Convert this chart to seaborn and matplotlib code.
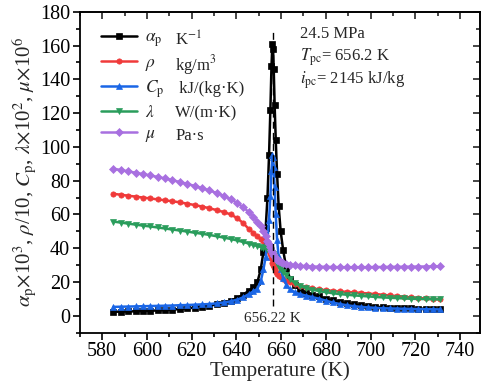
import numpy as np
import pandas as pd
import seaborn as sns
import matplotlib.pyplot as plt
from matplotlib.ticker import MultipleLocator

# temperature grid (K), denser near the pseudo-critical point
temperature = [
    585.0, 588.3, 591.6, 594.9, 598.2, 601.5, 604.8, 608.1, 611.4, 614.7,
    618.0, 621.3, 624.6, 627.9, 631.2, 634.4, 637.5, 640.4, 643.1, 645.5,
    647.6, 649.4, 650.9, 652.1, 653.1, 653.9, 654.6, 655.2, 655.7, 656.1,
    656.4, 656.7, 657.1, 657.6, 658.2, 658.9, 659.8, 660.9, 662.3, 664.0,
    666.0, 668.4, 671.0, 673.8, 676.8, 679.9, 683.0, 686.2, 689.4, 692.6,
    695.8, 699.0, 702.2, 705.4, 708.6, 711.8, 715.0, 718.2, 721.4, 724.6,
    727.8, 731.0,
]
alpha_p = [
    2.4, 2.5, 2.6, 2.7, 2.9, 3.0, 3.2, 3.4, 3.7, 4.0,
    4.4, 4.9, 5.4, 6.0, 6.8, 7.8, 9.0, 10.6, 12.6, 14.8,
    17.0, 20.0, 27.5, 38.0, 52.0, 70.0, 95.0, 122.0, 148.0, 161.0,
    158.0, 146.0, 125.0, 104.0, 84.0, 65.0, 50.0, 39.0, 28.5, 22.0,
    18.0, 15.5, 13.8, 12.6, 11.5, 10.2, 9.1, 8.2, 7.4, 6.8,
    6.2, 5.8, 5.4, 5.1, 4.9, 4.7, 4.5, 4.4, 4.3, 4.2,
    4.1, 4.0,
]
rho = [
    72.2, 71.7, 71.1, 70.6, 70.0, 69.5, 68.9, 68.4, 67.8, 67.2,
    66.4, 65.6, 64.7, 63.7, 62.6, 61.4, 60.0, 57.8, 54.8, 51.5,
    49.0, 47.0, 45.5, 44.3, 42.5, 40.5, 38.5, 36.5, 34.0, 31.5,
    30.0, 28.8, 27.5, 26.2, 25.0, 23.8, 22.8, 21.9, 20.9, 19.8,
    18.8, 17.9, 17.0, 16.3, 15.7, 15.2, 14.8, 14.5, 14.2, 13.9,
    13.6, 13.2, 12.9, 12.5, 12.1, 11.7, 11.3, 10.9, 10.6, 10.3,
    10.0, 9.8,
]
cp = [
    5.3, 5.4, 5.5, 5.6, 5.7, 5.8, 5.9, 6.0, 6.1, 6.3,
    6.4, 6.6, 6.8, 7.0, 7.4, 7.9, 8.6, 9.6, 11.0, 12.8,
    14.5, 16.0, 20.5, 27.5, 35.0, 45.0, 57.0, 71.0, 86.0, 95.0,
    94.0, 88.0, 76.0, 60.0, 45.0, 35.0, 28.0, 22.5, 18.5, 15.8,
    14.0, 12.8, 12.0, 11.1, 10.2, 9.0, 7.9, 7.0, 6.3, 5.7,
    5.3, 5.0, 4.7, 4.5, 4.4, 4.3, 4.2, 4.1, 4.0, 3.9,
    3.9, 3.8,
]
lam = [
    55.8, 55.2, 54.6, 54.0, 53.4, 52.9, 52.3, 51.7, 51.1, 50.5,
    49.9, 49.2, 48.6, 47.9, 47.1, 46.3, 45.5, 44.6, 43.7, 42.8,
    42.0, 41.3, 40.8, 40.4, 40.1, 39.8, 39.5, 39.0, 38.3, 37.4,
    36.6, 35.6, 34.3, 32.7, 31.0, 29.2, 27.5, 25.9, 24.0, 21.8,
    19.6, 17.8, 16.5, 15.5, 14.7, 14.0, 13.4, 12.9, 12.5, 12.1,
    11.8, 11.5, 11.2, 10.9, 10.7, 10.5, 10.3, 10.1, 10.0, 9.9,
    9.8, 9.7,
]
mu = [
    87.1, 86.3, 85.5, 84.7, 83.9, 83.1, 82.2, 81.3, 80.3, 79.2,
    78.1, 76.9, 75.6, 74.2, 72.7, 71.0, 69.0, 66.8, 64.2, 61.5,
    58.6, 55.8, 53.0, 50.0, 47.0, 44.5, 42.4, 40.5, 38.9, 37.5,
    36.6, 35.7, 34.8, 33.9, 33.2, 32.6, 32.0, 31.4, 30.8, 30.3,
    29.9, 29.6, 29.4, 29.2, 29.1, 29.0, 28.9, 28.8, 28.8, 28.8,
    28.8, 28.8, 28.9, 28.9, 29.0, 29.0, 29.1, 29.1, 29.2, 29.2,
    29.3, 29.3,
]

series = ['alpha', 'rho', 'cp', 'lam', 'mu']
symbols = [r'$\alpha_\mathrm{p}$', r'$\rho$', r'$C_\mathrm{p}$', r'$\lambda$', r'$\mu$']
units = ['K$^{-1}$', 'kg/m$^3$', ' kJ/(kg·K)', 'W/(m·K)', 'Pa·s']
colors = {'alpha': '#000000', 'rho': '#f03a3a', 'cp': '#1a66e6',
          'lam': '#2a9d5c', 'mu': '#a870e0'}
markers = {'alpha': 's', 'rho': 'o', 'cp': '^', 'lam': 'v', 'mu': 'D'}

T_PC = 656.22
info_lines = ['24.5 MPa', r'$T_\mathrm{pc}$= 656.2 K', r'$i_\mathrm{pc}$= 2145 kJ/kg']

df = pd.DataFrame({'T': temperature, 'alpha': alpha_p, 'rho': rho,
                   'cp': cp, 'lam': lam, 'mu': mu})
long = df.melt(id_vars='T', var_name='prop', value_name='val')

sns.set_theme(style='white')
plt.rcParams['font.family'] = ['Liberation Serif', 'DejaVu Serif']
plt.rcParams['mathtext.fontset'] = 'stix'

fig = plt.figure(figsize=(4.84, 3.91), dpi=100)
ax = fig.add_axes([0.165, 0.149, 0.827, 0.821])

sns.lineplot(data=long, x='T', y='val', hue='prop', style='prop',
             hue_order=series, style_order=series, palette=colors,
             markers=markers, dashes=False, estimator=None, sort=False,
             linewidth=1.8, markersize=3.8, ax=ax)
for line in ax.lines:
    line.set_markeredgecolor(line.get_color())
    line.set_markeredgewidth(0.5)

ax.vlines(T_PC, 6, 170, colors='black', linestyles=(0, (5, 3)), linewidth=1.0)
ax.text(T_PC, 2.5, '656.22 K', ha='center', va='top', fontsize=11)

ax.set_xlim(570, 749)
ax.set_ylim(-10, 180)
ax.xaxis.set_major_locator(MultipleLocator(20))
ax.xaxis.set_minor_locator(MultipleLocator(10))
ax.yaxis.set_major_locator(MultipleLocator(20))
ax.yaxis.set_minor_locator(MultipleLocator(10))
ax.tick_params(which='both', direction='out', bottom=True, left=True,
               labelsize=14.5, width=1.2, colors='black', pad=2)
ax.tick_params(which='major', length=5)
ax.tick_params(which='minor', length=3)
for s in ax.spines.values():
    s.set_linewidth(1.3)
    s.set_color('black')

top = ax.secondary_xaxis('top')
top.xaxis.set_major_locator(MultipleLocator(20))
top.xaxis.set_minor_locator(MultipleLocator(10))
top.tick_params(which='both', direction='in', labeltop=False, width=1.2)
top.tick_params(which='major', length=5)
top.tick_params(which='minor', length=3)
right = ax.secondary_yaxis('right')
right.yaxis.set_major_locator(MultipleLocator(20))
right.yaxis.set_minor_locator(MultipleLocator(10))
right.tick_params(which='both', direction='in', labelright=False, width=1.2)
right.tick_params(which='major', length=5)
right.tick_params(which='minor', length=3)

ax.set_xlabel('Temperature (K)', fontsize=15, labelpad=0)
ax.set_ylabel(r'$\alpha_\mathrm{p}$$\times$10$^3$, $\rho$/10, $C_\mathrm{p}$, '
              r'$\lambda$$\times$10$^2$, $\mu$$\times$10$^6$', fontsize=15, labelpad=1)

handles, _ = ax.get_legend_handles_labels()
ax.get_legend().remove()
for h in handles:
    h.set_markeredgecolor(h.get_color())
leg = ax.legend(handles[-5:], symbols, loc='upper left', frameon=False,
                fontsize=12.5, handlelength=2.1, handletextpad=0.45,
                labelspacing=0.3, numpoints=1, borderaxespad=0,
                bbox_to_anchor=(0.035, 0.965))

fig.canvas.draw()
inv = ax.transAxes.inverted()
for txt, unit in zip(leg.get_texts(), units):
    bb = txt.get_window_extent()
    y = inv.transform(((bb.x0 + bb.x1) / 2, (bb.y0 + bb.y1) / 2))[1]
    ax.text(0.238, y, unit, transform=ax.transAxes, fontsize=12, va='center')

for i, line in enumerate(info_lines):
    ax.text(0.55, 0.93 - i * 0.072, line, transform=ax.transAxes,
            fontsize=12, va='center')

fig.savefig('out.png', dpi=100)
